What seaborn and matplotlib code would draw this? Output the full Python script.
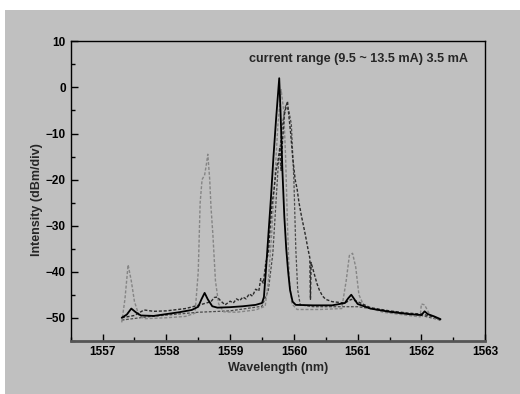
import matplotlib
matplotlib.use("Agg")
import matplotlib.pyplot as plt
import matplotlib.patches as mpatches
from matplotlib.ticker import MultipleLocator
import seaborn as sns

# ---- data ----
solid_x = [1557.30, 1557.38, 1557.45, 1557.52, 1557.60, 1557.80, 1558.00, 1558.20, 1558.40, 1558.50,
           1558.55, 1558.60, 1558.65, 1558.72, 1558.80, 1559.00, 1559.20, 1559.40, 1559.50, 1559.53,
           1559.56, 1559.60, 1559.64, 1559.68, 1559.72, 1559.77, 1559.79, 1559.82, 1559.85, 1559.88,
           1559.91, 1559.94, 1559.98, 1560.03, 1560.30, 1560.60, 1560.80, 1560.85, 1560.90, 1560.95,
           1561.00, 1561.20, 1561.50, 1561.80, 1562.00, 1562.05, 1562.10, 1562.20, 1562.30]
solid_y = [-50.0, -49.3, -48.0, -48.8, -49.5, -49.6, -49.2, -48.8, -48.3, -47.6,
           -46.0, -44.6, -46.0, -47.5, -47.8, -47.7, -47.5, -47.2, -46.8, -45.5,
           -40.0, -32.0, -24.0, -15.0, -7.0, 2.0, -5.0, -18.0, -28.0, -35.0,
           -40.0, -44.0, -46.5, -47.2, -47.3, -47.3, -46.8, -45.8, -45.0, -46.0,
           -47.0, -48.0, -48.7, -49.2, -49.4, -48.6, -49.2, -49.7, -50.3]

gray_x = [1557.30, 1557.35, 1557.40, 1557.45, 1557.50, 1557.57, 1557.65, 1558.00, 1558.30, 1558.45,
          1558.50, 1558.53, 1558.56, 1558.60, 1558.63, 1558.65, 1558.68, 1558.70, 1558.73, 1558.77,
          1558.82, 1558.90, 1559.10, 1559.40, 1559.55, 1559.60, 1559.65, 1559.70, 1559.75, 1559.80,
          1559.84, 1559.87, 1559.90, 1559.93, 1559.97, 1560.05, 1560.40, 1560.75, 1560.82, 1560.87,
          1560.92, 1560.97, 1561.02, 1561.10, 1561.40, 1561.80, 1561.98, 1562.00, 1562.05, 1562.10,
          1562.15, 1562.30]
gray_y = [-51.0, -46.0, -38.5, -42.0, -46.5, -49.5, -50.2, -50.0, -49.7, -49.0,
          -40.0, -25.0, -20.0, -19.0, -16.5, -14.5, -20.0, -26.0, -32.0, -42.0,
          -47.0, -48.7, -48.8, -48.3, -47.5, -42.0, -32.0, -20.0, -8.0, -0.5,
          -5.0, -15.0, -30.0, -42.0, -47.0, -48.2, -48.2, -48.0, -42.0, -36.5,
          -36.0, -39.0, -45.0, -47.5, -48.8, -49.5, -49.8, -47.0, -47.2, -48.5,
          -49.8, -50.5]

dark_x = [1557.30, 1557.50, 1557.65, 1557.80, 1558.00, 1558.30, 1558.50, 1558.70, 1558.75, 1558.80,
          1558.85, 1558.92, 1559.00, 1559.05, 1559.10, 1559.15, 1559.20, 1559.25, 1559.30, 1559.35,
          1559.40, 1559.45, 1559.48, 1559.52, 1559.56, 1559.60, 1559.63, 1559.66, 1559.69, 1559.72,
          1559.75, 1559.78, 1559.80, 1559.82, 1559.85, 1559.88, 1559.90, 1559.92, 1559.95, 1559.98,
          1560.02, 1560.05, 1560.08, 1560.12, 1560.15, 1560.18, 1560.22, 1560.25, 1560.26, 1560.27,
          1560.32, 1560.36, 1560.40, 1560.45, 1560.50, 1560.60, 1560.80, 1560.90, 1561.00, 1561.20,
          1561.50, 1561.80, 1562.00, 1562.10, 1562.20, 1562.30]
dark_y = [-50.0, -49.5, -48.3, -48.6, -48.5, -48.0, -47.3, -46.5, -45.6, -45.5,
          -46.3, -47.2, -46.4, -46.8, -45.9, -46.3, -45.5, -45.9, -44.8, -45.3,
          -43.8, -44.2, -41.5, -42.5, -38.0, -36.0, -30.0, -25.0, -22.0, -18.0,
          -16.0, -13.0, -18.0, -12.0, -6.0, -4.0, -3.0, -6.0, -10.0, -15.0,
          -20.0, -22.0, -25.0, -28.0, -30.0, -32.0, -35.0, -37.0, -46.0, -38.0,
          -40.5, -42.5, -44.0, -45.3, -46.0, -46.5, -46.8, -46.0, -46.5, -47.8,
          -48.5, -49.0, -49.2, -49.5, -49.8, -50.5]

mid_x = [1557.30, 1557.70, 1558.50, 1559.00, 1559.50, 1559.60, 1559.67, 1559.75, 1559.82, 1559.87,
         1559.92, 1559.96, 1560.00, 1560.03, 1560.06, 1560.10, 1560.30, 1561.00, 1561.50, 1562.00,
         1562.30]
mid_y = [-50.5, -49.8, -48.8, -48.5, -47.5, -44.0, -36.0, -18.0, -8.0, -4.0,
         -5.0, -8.0, -20.0, -35.0, -44.0, -47.2, -47.6, -47.6, -48.6, -49.5,
         -50.5]

x_ticks = [1557, 1558, 1559, 1560, 1561, 1562, 1563]
y_ticks = [-50, -40, -30, -20, -10, 0, 10]
annotation = "current range (9.5 ~ 13.5 mA) 3.5 mA"

# ---- style ----
sns.set_style("ticks")
plt.rcParams['font.family'] = ['Liberation Sans', 'DejaVu Sans']
plt.rcParams['font.weight'] = 'bold'

BG = "#c0c0c0"
fig = plt.figure(figsize=(5.2, 3.94), dpi=100, facecolor="white")
fig.patches.append(mpatches.Rectangle((5 / 520, 0), 1 - 5 / 520, 1 - 10 / 394,
                                      transform=fig.transFigure, facecolor=BG,
                                      edgecolor="none", zorder=-10))
ax = fig.add_axes([0.136, 0.135, 0.933 - 0.136, 0.895 - 0.135])
ax.set_facecolor(BG)

dash = (2.2, 1.3)
sns.lineplot(x=mid_x, y=mid_y, ax=ax, color="#4a4a4a", lw=0.9,
             linestyle=(0, dash), estimator=None, sort=False)
sns.lineplot(x=gray_x, y=gray_y, ax=ax, color="#858585", lw=1.0,
             linestyle=(0, dash), estimator=None, sort=False)
sns.lineplot(x=dark_x, y=dark_y, ax=ax, color="#2b2b2b", lw=1.0,
             linestyle=(0, dash), estimator=None, sort=False)
sns.lineplot(x=solid_x, y=solid_y, ax=ax, color="black", lw=1.3,
             estimator=None, sort=False)

ax.set_xlim(1556.5, 1563)
ax.set_ylim(-55, 10)
ax.set_xticks(x_ticks)
ax.set_yticks(y_ticks)
ax.xaxis.set_minor_locator(MultipleLocator(0.5))
ax.yaxis.set_minor_locator(MultipleLocator(5))
ax.tick_params(which="both", direction="in", top=False, right=False,
               labelsize=8.5, width=1, colors="black")
ax.tick_params(which="major", length=5)
ax.tick_params(which="minor", length=3)
for lab in ax.get_xticklabels() + ax.get_yticklabels():
    lab.set_fontweight("bold")

for s in ["top", "right", "left"]:
    ax.spines[s].set_visible(True)
    ax.spines[s].set_color("black")
    ax.spines[s].set_linewidth(1.0)
ax.spines["bottom"].set_color("#555555")
ax.spines["bottom"].set_linewidth(2.0)

ax.set_xlabel("Wavelength (nm)", fontsize=9, fontweight="bold")
ax.set_ylabel("Intensity (dBm/div)", fontsize=9, fontweight="bold")
ax.xaxis.set_label_coords(0.501, -0.070)
ax.yaxis.set_label_coords(-0.067, 0.472)
ax.text(1559.30, 6.2, annotation, fontsize=9.1, fontweight="bold",
        ha="left", va="center")

fig.savefig("out.png", dpi=100, facecolor="white")
